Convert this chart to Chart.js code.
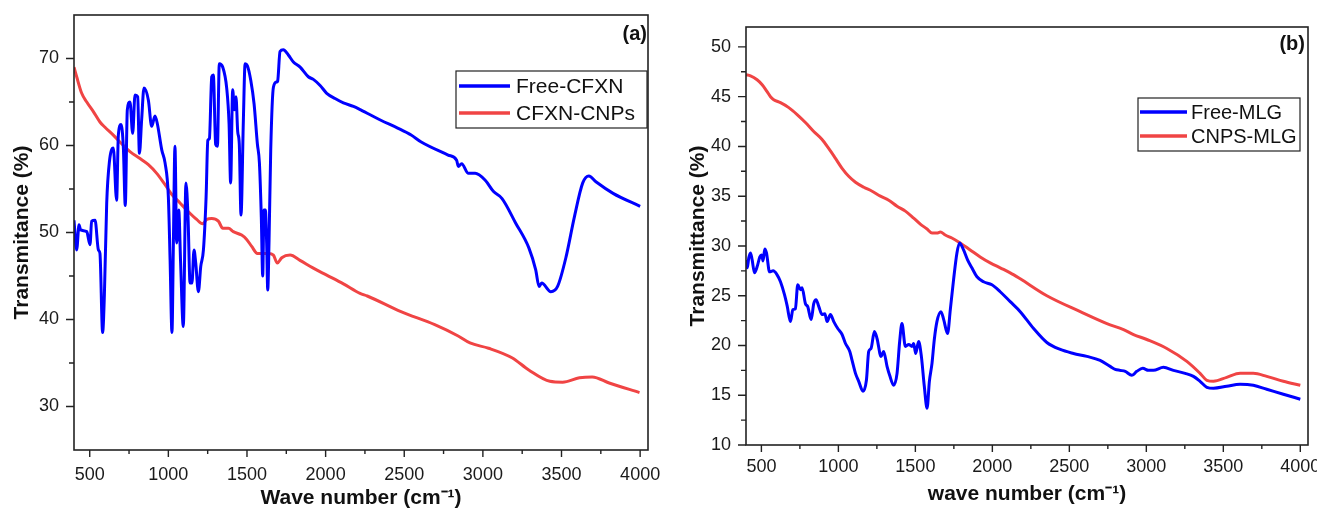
<!DOCTYPE html>
<html><head><meta charset="utf-8">
<script src="https://cdn.jsdelivr.net/npm/chart.js@4.4.1/dist/chart.umd.min.js"></script>
<style>
html,body{margin:0;padding:0;background:#fff;overflow:hidden;width:1317px;height:511px;}
#wa{position:absolute;left:0;top:0;width:660px;height:511px;}
#wb{position:absolute;left:660px;top:0;width:657px;height:511px;}
canvas{display:block;}
</style></head><body>
<div id="wa"><canvas id="ca" width="660" height="511"></canvas></div>
<div id="wb"><canvas id="cb" width="657" height="511"></canvas></div>
<script>
// ---------- DATA ----------
const xMajorTicks = [500, 1000, 1500, 2000, 2500, 3000, 3500, 4000];
const xMinorTicks = [750, 1250, 1750, 2250, 2750, 3250, 3750];
const aYMajorTicks = [30, 40, 50, 60, 70];
const aYMinorTicks = [35, 45, 55, 65];
const bYMajorTicks = [10, 15, 20, 25, 30, 35, 40, 45, 50];
const bYMinorTicks = [12.5, 17.5, 22.5, 27.5, 32.5, 37.5, 42.5, 47.5];

const aSeriesNames = ['Free-CFXN', 'CFXN-CNPs'];
const bSeriesNames = ['Free-MLG', 'CNPS-MLG'];

const cfxnFreeX = [400,417,432,442,481,502,512,534,555,565,582,593,608,625,650,671,682,699,714,726,739,756,773,788,805,816,830,845,873,894,915,930,958,979,1000,1011,1023,1032,1042,1053,1066,1078,1095,1112,1125,1138,1150,1163,1174,1191,1206,1223,1240,1251,1261,1276,1286,1301,1312,1324,1346,1371,1386,1396,1409,1420,1430,1441,1451,1462,1477,1488,1502,1524,1545,1566,1579,1591,1600,1608,1617,1625,1632,1640,1651,1668,1689,1695,1710,1731,1763,1795,1838,1890,1922,1965,2007,2060,2113,2177,2223,2351,2458,2544,2608,2779,2833,2844,2865,2908,2951,3015,3068,3122,3208,3293,3336,3357,3374,3432,3475,3529,3582,3635,3674,3721,3828,4000];
const cfxnFreeY = [51.4,48.0,50.9,50.3,50.1,48.6,51.3,51.4,48.0,47.6,38.5,42.7,53.4,58.1,59.7,53.7,61.2,62.4,59.7,53.1,64.1,65.0,61.4,65.8,65.6,59.1,62.9,66.6,65.2,62.2,63.4,62.5,59.5,58.0,54.1,46.9,38.5,48.8,59.9,48.8,52.6,46.5,39.2,55.7,51.8,44.2,44.2,48.0,46.5,43.2,46.1,48.0,54.1,60.6,60.8,67.9,68.1,60.1,59.9,69.4,69.0,66.6,62.5,55.7,66.4,64.1,65.6,61.6,60.2,52.0,62.9,69.4,69.2,67.5,64.8,60.2,58.0,51.8,45.0,52.6,52.6,48.8,43.4,48.8,59.5,66.7,67.3,67.4,70.8,71.0,70.4,69.6,69.0,67.9,67.6,66.9,66.0,65.4,64.9,64.5,64.1,62.9,62.0,61.2,60.4,58.9,58.3,57.6,57.9,56.8,56.8,56.0,54.7,53.9,51.1,48.2,45.7,43.8,44.2,43.2,43.8,47.2,51.8,55.7,56.5,55.8,54.5,53.0];

const cfxnCnpX = [400,417,449,481,523,565,597,650,703,756,820,873,926,979,1021,1074,1127,1180,1218,1244,1276,1318,1346,1382,1413,1466,1498,1530,1566,1604,1636,1668,1693,1721,1774,1837,1922,2007,2113,2219,2265,2479,2694,2843,2918,3036,3185,3292,3426,3507,3614,3695,3803,3996];
const cfxnCnpY = [69.0,67.9,66.0,65.0,63.9,62.7,62.1,61.2,60.2,59.3,58.5,57.8,56.8,55.5,54.4,53.4,52.4,51.5,51.0,51.5,51.6,51.3,50.5,50.5,50.1,49.7,49.2,48.4,47.6,47.6,47.6,47.4,46.5,47.1,47.4,46.8,45.9,45.1,44.1,43.0,42.7,40.9,39.4,38.1,37.3,36.7,35.6,34.2,32.9,32.8,33.3,33.4,32.7,31.6];

const mlgFreeX = [400,408,418,429,440,455,472,490,501,511,522,533,553,576,602,624,650,667,689,704,721,736,754,764,786,801,823,840,855,873,894,912,927,948,970,996,1024,1046,1074,1089,1111,1132,1160,1182,1197,1212,1234,1251,1277,1294,1316,1333,1359,1381,1398,1413,1435,1457,1478,1489,1502,1521,1539,1558,1576,1591,1608,1623,1640,1666,1684,1709,1727,1748,1770,1787,1813,1839,1867,1900,1943,1997,2051,2116,2181,2268,2354,2441,2527,2614,2700,2765,2798,2830,2863,2906,2938,2977,3014,3046,3111,3176,3252,3306,3349,3393,3436,3522,3609,3695,3782,3890,4000];
const mlgFreeY = [28.6,27.8,28.8,29.3,28.6,27.3,27.9,28.9,29.1,28.5,29.7,29.3,27.4,27.5,27.1,26.4,25.1,24.0,22.4,23.6,23.7,26.1,25.6,25.8,24.2,23.9,22.6,24.2,24.6,23.9,23.1,23.2,22.4,23.1,22.4,21.7,21.1,20.2,19.4,18.5,17.2,16.4,15.4,16.5,19.4,19.7,21.4,20.7,18.9,19.4,17.9,17.0,16.0,17.2,20.4,22.2,19.9,20.1,19.9,20.2,19.2,20.4,18.9,15.9,13.7,16.4,18.2,20.6,22.4,23.4,22.6,21.2,23.6,26.6,29.3,30.3,29.6,28.6,27.8,26.9,26.4,26.1,25.4,24.4,23.4,21.7,20.3,19.6,19.2,18.9,18.5,17.9,17.6,17.5,17.4,17.0,17.4,17.7,17.5,17.5,17.8,17.5,17.2,16.9,16.4,15.8,15.7,15.9,16.1,16.0,15.6,15.1,14.6];

const mlgCnpX = [400,429,472,505,537,559,580,624,678,732,786,840,894,937,981,1024,1067,1111,1165,1219,1273,1327,1381,1435,1489,1532,1576,1608,1640,1662,1694,1737,1791,1856,1921,1986,2051,2116,2181,2354,2571,2744,2852,2917,3003,3133,3263,3349,3393,3436,3522,3609,3695,3782,3890,4000];
const mlgCnpY = [47.2,47.1,46.7,46.2,45.5,45.0,44.7,44.4,43.9,43.2,42.4,41.5,40.7,39.8,38.8,37.8,37.0,36.4,35.9,35.5,35.0,34.6,34.0,33.5,32.8,32.2,31.7,31.3,31.3,31.4,31.1,30.8,30.3,29.6,28.9,28.3,27.8,27.3,26.7,25.0,23.4,22.2,21.6,21.1,20.6,19.7,18.4,17.2,16.5,16.4,16.8,17.2,17.2,16.9,16.4,16.0];

// ---------- STYLE / HELPERS ----------
const FONT = '"Liberation Sans", Arial, Helvetica, sans-serif';
Chart.defaults.font.family = FONT;
const BLUE = '#0000ff';
const RED = '#f04444';
const xy = (xs, ys) => xs.map((v, i) => ({x: v, y: ys[i]}));
const plain = v => String(v);

const decor = {
  id: 'decor',
  afterDatasetsDraw(chart, args, o) {
    const {ctx, chartArea: a, scales: {x, y}} = chart;
    ctx.save();
    // panel label
    ctx.font = 'bold 20px ' + FONT;
    ctx.fillStyle = '#111';
    ctx.textAlign = 'right';
    ctx.textBaseline = 'middle';
    ctx.fillText(o.label, o.labelX, o.labelY);
    // frame
    ctx.strokeStyle = '#222';
    ctx.lineWidth = 1.6;
    ctx.strokeRect(a.left, a.top, a.right - a.left, a.bottom - a.top);
    // ticks
    ctx.lineWidth = 1.4;
    ctx.beginPath();
    const xt = (vals, len) => vals.forEach(v => { const p = x.getPixelForValue(v); ctx.moveTo(p, a.bottom); ctx.lineTo(p, a.bottom + len); });
    const yt = (vals, len) => vals.forEach(v => { const p = y.getPixelForValue(v); ctx.moveTo(a.left, p); ctx.lineTo(a.left - len, p); });
    xt(xMajorTicks, 7); xt(xMinorTicks, 4);
    yt(o.yMajor, 8); yt(o.yMinor, 5);
    ctx.stroke();
    // legend
    const L = o.legend;
    ctx.fillStyle = '#fff';
    ctx.fillRect(L.x, L.y, L.w, L.h);
    ctx.strokeStyle = '#222';
    ctx.lineWidth = 1.2;
    ctx.strokeRect(L.x, L.y, L.w, L.h);
    ctx.font = L.font + 'px ' + FONT;
    ctx.textAlign = 'left';
    ctx.textBaseline = 'middle';
    chart.data.datasets.forEach((ds, i) => {
      const ry = L.row0 + i * L.rowGap;
      ctx.strokeStyle = ds.borderColor;
      ctx.lineWidth = 3.5;
      ctx.beginPath();
      ctx.moveTo(L.x + L.s0, ry);
      ctx.lineTo(L.x + L.s1, ry);
      ctx.stroke();
      ctx.fillStyle = '#111';
      ctx.fillText(ds.label, L.x + L.tx, ry + 1);
    });
    ctx.restore();
  }
};

function makeChart(id, c) {
  return new Chart(document.getElementById(id), {
    type: 'line',
    data: {
      datasets: [
        {label: c.names[0], data: xy(c.s1x, c.s1y), borderColor: BLUE, borderWidth: 3, pointRadius: 0, cubicInterpolationMode: 'monotone', fill: false},
        {label: c.names[1], data: xy(c.s2x, c.s2y), borderColor: RED, borderWidth: 3, pointRadius: 0, cubicInterpolationMode: 'monotone', fill: false}
      ]
    },
    options: {
      responsive: false,
      animation: false,
      events: [],
      layout: {padding: {top: c.padTop, right: c.padRight, left: 0, bottom: 0}},
      plugins: {
        legend: {display: false},
        tooltip: {enabled: false},
        decor: {label: c.label, labelX: c.labelX, labelY: c.labelY, yMajor: c.yMajor, yMinor: c.yMinor, legend: c.legend}
      },
      scales: {
        x: {
          type: 'linear', min: 400, max: 4050,
          grid: {display: false, drawTicks: false},
          border: {display: false},
          ticks: {padding: c.xPad, font: {size: 18}, color: '#1a1a1a', maxRotation: 0, autoSkip: false, callback: plain},
          afterBuildTicks: s => { s.ticks = xMajorTicks.map(v => ({value: v})); },
          afterFit: s => { s.height = c.xH; s.paddingLeft = 0; s.paddingRight = 0; },
          title: {display: true, text: c.xTitle, color: '#111', font: {size: 21, weight: 'bold'}, padding: {top: 0, bottom: c.xTitlePad}}
        },
        y: {
          type: 'linear', min: c.yMin, max: c.yMax,
          grid: {display: false, drawTicks: false},
          border: {display: false},
          ticks: {padding: c.yPad, font: {size: 18}, color: '#1a1a1a', autoSkip: false, callback: plain},
          afterBuildTicks: s => { s.ticks = c.yMajor.map(v => ({value: v})); },
          afterFit: s => { s.width = c.yW; s.paddingTop = 0; s.paddingBottom = 0; },
          title: {display: true, text: c.yTitle, color: '#111', font: {size: 21, weight: 'bold'}, padding: {top: c.yTitlePad, bottom: 0}}
        }
      }
    },
    plugins: [decor]
  });
}

makeChart('ca', {
  names: aSeriesNames, s1x: cfxnFreeX, s1y: cfxnFreeY, s2x: cfxnCnpX, s2y: cfxnCnpY,
  yMin: 25, yMax: 75, yMajor: aYMajorTicks, yMinor: aYMinorTicks,
  padTop: 15, padRight: 12, xH: 61, yW: 74, xPad: 14, yPad: 15, xTitlePad: 0, yTitlePad: 10,
  xTitle: 'Wave number (cm\u207B\u00B9)', yTitle: 'Transmitance (%)',
  label: '(a)', labelX: 647, labelY: 34,
  legend: {x: 456, y: 71, w: 191, h: 57, s0: 3, s1: 54, tx: 60, row0: 86, rowGap: 27, font: 21}
});

makeChart('cb', {
  names: bSeriesNames, s1x: mlgFreeX, s1y: mlgFreeY, s2x: mlgCnpX, s2y: mlgCnpY,
  yMin: 10, yMax: 52, yMajor: bYMajorTicks, yMinor: bYMinorTicks,
  padTop: 27, padRight: 9, xH: 66, yW: 86, xPad: 11, yPad: 15, xTitlePad: 4, yTitlePad: 26,
  xTitle: 'wave number (cm\u207B\u00B9)', yTitle: 'Transmittance (%)',
  label: '(b)', labelX: 645, labelY: 44,
  legend: {x: 478, y: 98, w: 162, h: 53, s0: 2, s1: 49, tx: 53, row0: 112, rowGap: 24, font: 20}
});
</script>
</body></html>
